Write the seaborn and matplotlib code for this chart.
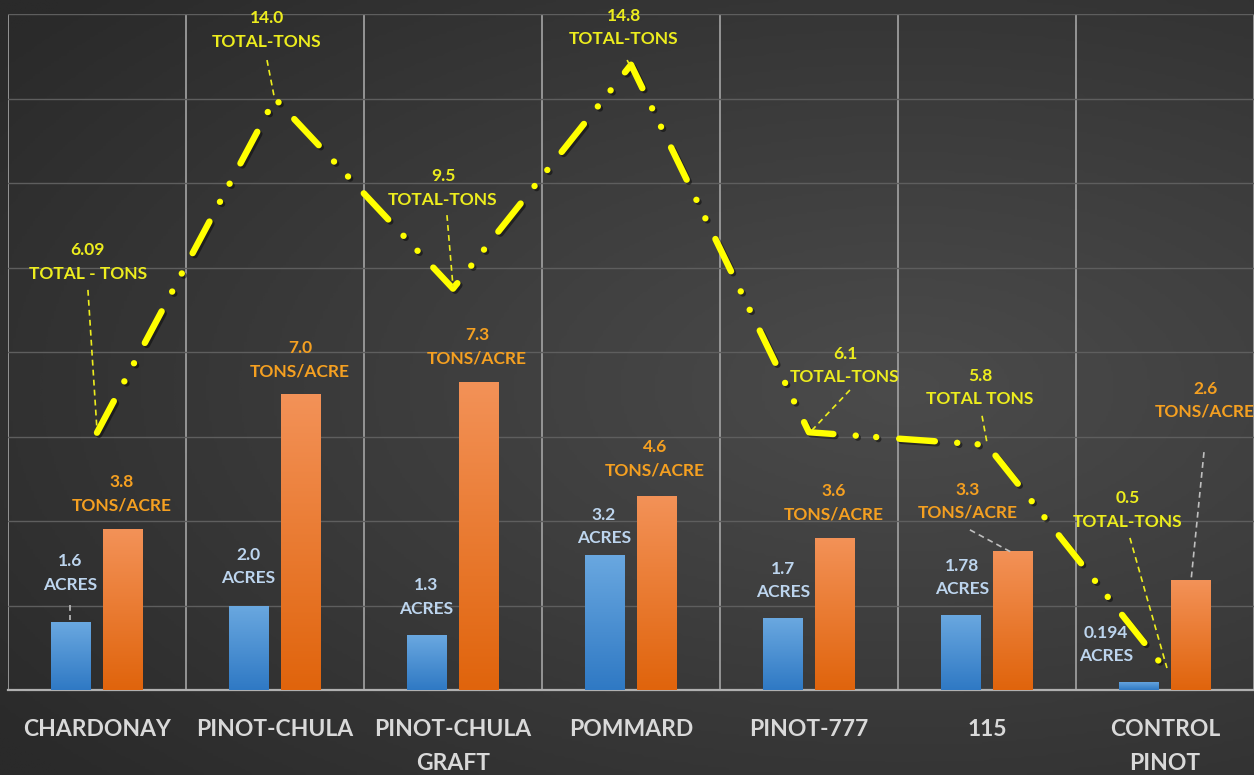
import numpy as np
import pandas as pd
import matplotlib
matplotlib.use("Agg")
import matplotlib.pyplot as plt
import seaborn as sns
from matplotlib.colors import LinearSegmentedColormap
import matplotlib.patheffects as pe

# ---------------- data ----------------
varieties = ["CHARDONAY", "PINOT-CHULA", "PINOT-CHULA\nGRAFT", "POMMARD",
             "PINOT-777", "115", "CONTROL\nPINOT"]
acres = [1.6, 2.0, 1.3, 3.2, 1.7, 1.78, 0.194]
tons_per_acre = [3.8, 7.0, 7.3, 4.6, 3.6, 3.3, 2.6]
total_tons = [6.09, 14.0, 9.5, 14.8, 6.1, 5.8, 0.5]

acre_labels = ["1.6\nACRES", "2.0\nACRES", "1.3\nACRES", "3.2\nACRES",
               "1.7\nACRES", "1.78\nACRES", "0.194\nACRES"]
tpa_labels = ["3.8\nTONS/ACRE", "7.0\nTONS/ACRE", "7.3\nTONS/ACRE", "4.6\nTONS/ACRE",
              "3.6\nTONS/ACRE", "3.3\nTONS/ACRE", "2.6\nTONS/ACRE"]
total_labels = ["6.09\nTOTAL - TONS", "14.0\nTOTAL-TONS", "9.5\nTOTAL-TONS",
                "14.8\nTOTAL-TONS", "6.1\nTOTAL-TONS", "5.8\nTOTAL TONS",
                "0.5\nTOTAL-TONS"]

# ---------------- layout of annotations (data coords) ----------------
acre_pos = [(-0.152, 2.77), (0.848, 2.93), (1.848, 2.20), (2.848, 3.86),
            (3.854, 2.60), (4.860, 2.67), (5.669, 1.07)]
tpa_pos = [(0.140, 4.64), (1.140, 7.81), (2.135, 8.12), (3.135, 5.47),
           (4.140, 4.43), (4.893, 4.47), (6.225, 6.86)]
total_pos = [(-0.051, 10.13), (0.955, 15.62), (1.944, 11.88), (2.961, 15.69),
             (4.202, 7.69), (4.961, 7.15), (5.792, 4.26)]
# leader lines: (x0, y0, x1, y1, color)
YEL = "#EDED1E"
ORG = "#F5A021"
BLU = "#BDD5EE"
GRY = "#BFBFBF"
leaders = [
    (-0.152, 2.01, -0.152, 1.66, GRY),
    (-0.051, 9.47, 0.0, 6.15, YEL),
    (0.955, 14.91, 0.995, 14.05, YEL),
    (1.966, 11.24, 2.0, 9.55, YEL),
    (2.978, 14.91, 2.998, 14.75, YEL),
    (4.230, 7.10, 4.017, 6.15, YEL),
    (4.972, 6.49, 5.0, 5.85, YEL),
    (4.904, 3.79, 5.146, 3.24, GRY),
    (5.803, 3.60, 6.011, 0.52, YEL),
    (6.219, 5.63, 6.146, 2.58, GRY),
]

plt.rcParams["font.family"] = ["Lato", "DejaVu Sans"]

W, H = 1254, 775
fig = plt.figure(figsize=(W / 100, H / 100), dpi=100)

# background radial gradient
bg = fig.add_axes([0, 0, 1, 1])
yy, xx = np.mgrid[0:1:300j, 0:1:480j]
r = np.sqrt(((xx - 0.72) / 0.9) ** 2 + ((yy - 0.5) / 0.75) ** 2)
r = np.clip(r, 0, 1)
bg_cmap = LinearSegmentedColormap.from_list("bg", ["#4b4b4b", "#3b3b3b", "#2a2a2a"])
bg.imshow(r, cmap=bg_cmap, extent=[0, 1, 0, 1], aspect="auto", origin="lower",
          vmin=0, vmax=1)
bg.set_axis_off()

ax = fig.add_axes([8 / W, 85 / H, 1 - 8 / W, (690 - 14) / H])
ax.patch.set_alpha(0)

df = pd.DataFrame({
    "variety": varieties * 2,
    "value": acres + tons_per_acre,
    "metric": ["acres"] * len(varieties) + ["tpa"] * len(varieties),
})

sns.barplot(data=df, x="variety", y="value", hue="metric", order=varieties,
            hue_order=["acres", "tpa"], palette=["#4A90D6", "#EE7A2A"],
            width=0.58, gap=0.23, saturation=1, legend=False, ax=ax, zorder=3,
            errorbar=None)

grads = [("#2F79C4", "#6AA8E0"), ("#E0640C", "#F39258")]
g = np.linspace(0, 1, 256).reshape(-1, 1)
for cont, (cb, ct) in zip(ax.containers, grads):
    cmap = LinearSegmentedColormap.from_list("g", [cb, ct])
    for bar in cont:
        x0, y0 = bar.get_x(), bar.get_y()
        w, h = bar.get_width(), bar.get_height()
        im = ax.imshow(g, cmap=cmap, extent=[x0, x0 + w, y0, y0 + h],
                       origin="lower", aspect="auto", zorder=3.5)
        im.set_clip_path(bar)

sns.lineplot(x=varieties, y=total_tons, ax=ax, color="#FFFF00", lw=4.6,
             sort=False, linestyle=(0, (5.6, 3.5, 0.01, 3.2, 0.01, 3.6)),
             dash_capstyle="round", zorder=6,
             path_effects=[pe.SimpleLineShadow(offset=(1.5, -1.5), alpha=0.45,
                                               shadow_color="black"),
                           pe.Normal()])

ax.set_xlim(-0.5, 6.5)
ax.set_ylim(0, 16)
ax.set_aspect("auto")

# grid
ax.set_yticks(np.arange(0, 17, 2))
ax.yaxis.grid(True, color="#5E5E5E", lw=1.0, zorder=0)
ax.set_yticklabels([])
ax.tick_params(axis="y", length=0)
ax.set_xticks(np.arange(-0.5, 7, 1), minor=True)
ax.xaxis.grid(True, which="minor", color="#9C9C9C", lw=1.3, zorder=1)
ax.xaxis.grid(False, which="major")
ax.set_axisbelow(True)
for s in ["top", "right", "left"]:
    ax.spines[s].set_visible(False)
ax.spines["bottom"].set_color("#B0B0B0")
ax.spines["bottom"].set_linewidth(1.6)
ax.set_xlabel("")
ax.set_ylabel("")

ax.tick_params(axis="x", which="both", length=0, pad=21)
ax.set_xticks(np.arange(len(varieties)))
ax.set_xticklabels(varieties, color="#D9D9D9", fontsize=16.5,
                   fontweight="bold", linespacing=1.75, va="top")

txt_kw = dict(ha="center", va="center", fontsize=12.5, fontweight="bold",
              linespacing=1.55, zorder=8, clip_on=False)
for lab, (x, y) in zip(acre_labels, acre_pos):
    ax.text(x, y, lab, color=BLU, **txt_kw)
for lab, (x, y) in zip(tpa_labels, tpa_pos):
    ax.text(x, y, lab, color=ORG, **txt_kw)
for lab, (x, y) in zip(total_labels, total_pos):
    ax.text(x, y, lab, color=YEL, **txt_kw)
for x0, y0, x1, y1, c in leaders:
    ax.plot([x0, x1], [y0, y1], color=c, lw=1.2, ls=(0, (3.5, 2.5)), zorder=7)

fig.savefig("out.png", dpi=100)
